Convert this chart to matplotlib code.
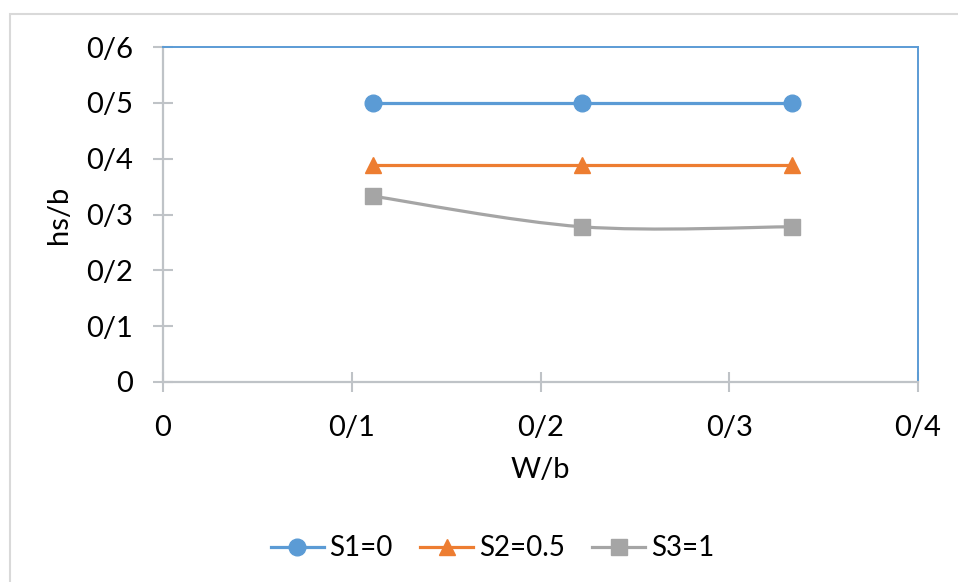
import matplotlib
matplotlib.use("Agg")
import matplotlib.pyplot as plt
from matplotlib.lines import Line2D
from matplotlib.path import Path
from matplotlib.patches import PathPatch, Rectangle

plt.rcParams["font.family"] = ["Lato", "DejaVu Sans"]

# Data
w_b = [0.111, 0.222, 0.333]
s1 = [0.5, 0.5, 0.5]
s2 = [0.389, 0.389, 0.389]
s3 = [0.333, 0.278, 0.278]
series_names = ["S1=0", "S2=0.5", "S3=1"]

x_ticks = [0, 0.1, 0.2, 0.3, 0.4]
x_tick_labels = ["0", "0/1", "0/2", "0/3", "0/4"]
y_ticks = [0, 0.1, 0.2, 0.3, 0.4, 0.5, 0.6]
y_tick_labels = ["0", "0/1", "0/2", "0/3", "0/4", "0/5", "0/6"]

BLUE = "#5B9BD5"
ORANGE = "#ED7D31"
GRAY = "#A5A5A5"
AXIS_GRAY = "#BFC3C7"

fig = plt.figure(figsize=(9.58, 5.82), dpi=100)
ax = fig.add_axes([163 / 958, 1 - 382 / 582, (918 - 163) / 958, (382 - 47) / 582])

FS = 21


def smooth_path(xs, ys):
    """Cubic Bezier path through the points (Excel-style smoothing)."""
    pts = list(zip(xs, ys))
    n = len(pts)
    verts = [pts[0]]
    codes = [Path.MOVETO]
    for i in range(n - 1):
        p0 = pts[i - 1] if i > 0 else pts[i]
        p1 = pts[i]
        p2 = pts[i + 1]
        p3 = pts[i + 2] if i + 2 < n else pts[i + 1]
        c1 = (p1[0] + (p2[0] - p0[0]) / 6, p1[1] + (p2[1] - p0[1]) / 6)
        c2 = (p2[0] - (p3[0] - p1[0]) / 6, p2[1] - (p3[1] - p1[1]) / 6)
        verts += [c1, c2, p2]
        codes += [Path.CURVE4] * 3
    return Path(verts, codes)


lw = 2.3
ms = 12
ax.plot(w_b, s1, color=BLUE, lw=lw, marker="o", ms=ms, zorder=3)
ax.plot(w_b, s2, color=ORANGE, lw=lw, marker="^", ms=ms, zorder=3)
ax.add_patch(PathPatch(smooth_path(w_b, s3), facecolor="none", edgecolor=GRAY,
                       lw=lw, zorder=3))
ax.plot(w_b, s3, color=GRAY, lw=0, marker="s", ms=11, zorder=4)

ax.set_xlim(0, 0.4)
ax.set_ylim(0, 0.6)
ax.set_xticks(x_ticks, x_tick_labels)
ax.set_yticks(y_ticks, y_tick_labels)

for side in ("left", "bottom"):
    ax.spines[side].set_color(AXIS_GRAY)
    ax.spines[side].set_linewidth(1.6)
for side in ("top", "right"):
    ax.spines[side].set_color(BLUE)
    ax.spines[side].set_linewidth(1.4)

ax.tick_params(axis="y", direction="inout", length=15, width=1.5, color=AXIS_GRAY,
               labelsize=FS, pad=14)
ax.tick_params(axis="x", direction="inout", length=14, width=1.5, color=AXIS_GRAY,
               labelsize=FS, pad=17)

ax.set_xlabel("W/b", fontsize=FS, labelpad=11)
ax.set_ylabel("hs/b", fontsize=FS, labelpad=10)

handles = [
    Line2D([], [], color=BLUE, lw=lw, marker="o", ms=ms),
    Line2D([], [], color=ORANGE, lw=lw, marker="^", ms=ms),
    Line2D([], [], color=GRAY, lw=lw, marker="s", ms=11),
]
fig.legend(handles, series_names, loc="center", bbox_to_anchor=(0.514, 0.058),
           ncol=3, frameon=False, fontsize=20, handlelength=1.9,
           handletextpad=0.2, columnspacing=1.0)

# Chart area frame
fig.add_artist(Rectangle((10 / 958, -0.05), 1.1, 1 - 14 / 582 + 0.05,
                         transform=fig.transFigure, facecolor="none",
                         edgecolor="#D9D9D9", lw=1.5))

fig.savefig("out.png", dpi=100)
